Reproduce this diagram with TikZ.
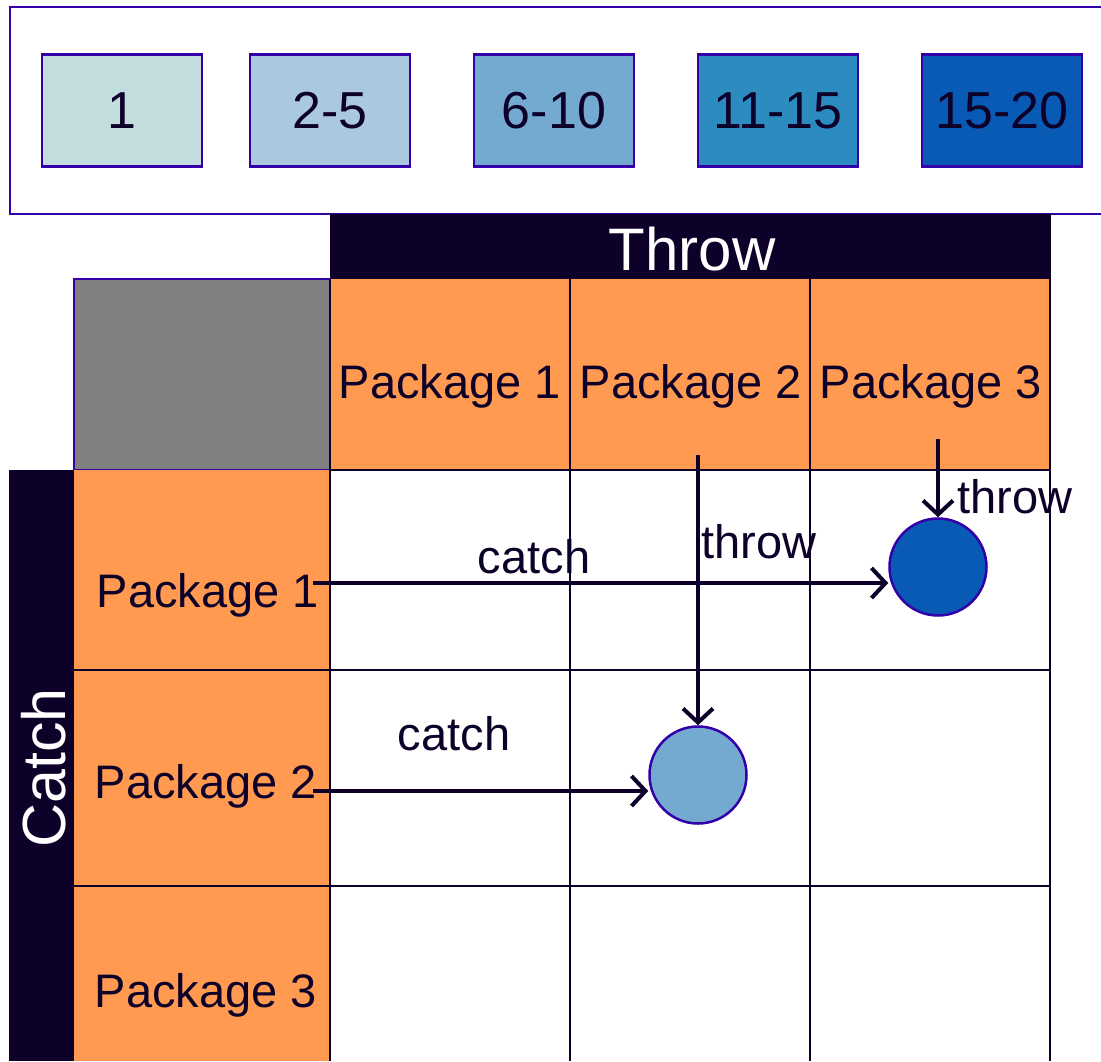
\documentclass[tikz,border=0pt]{standalone}
\usepackage{fontspec}
\setmainfont{Liberation Sans}
\usetikzlibrary{arrows.meta}
\definecolor{navy}{HTML}{0D0029}
\definecolor{bblue}{HTML}{3300AA}
\definecolor{orng}{HTML}{FF9A50}
\definecolor{gbox}{HTML}{808080}
\definecolor{lc1}{HTML}{C3DDDE}
\definecolor{lc2}{HTML}{ABC8E1}
\definecolor{lc3}{HTML}{74AAD0}
\definecolor{lc4}{HTML}{2D8CBF}
\definecolor{lc5}{HTML}{085AB4}
\begin{document}
\begin{tikzpicture}[x=1pt,y=-1pt,
  legbox/.style={draw=bblue,line width=2.5pt,rectangle,minimum width=160pt,minimum height=112pt,inner sep=0pt,text=navy,font=\fontsize{52}{60}\selectfont},
  gridline/.style={draw=navy,line width=2.5pt},
  celltext/.style={text=navy,font=\fontsize{47}{56}\selectfont,anchor=base,inner sep=0pt},
  lbl/.style={text=navy,font=\fontsize{47}{56}\selectfont,anchor=base,inner sep=0pt},
  dot/.style={circle,draw=bblue,line width=2.5pt,minimum size=97pt,inner sep=0pt},
  arr/.style={draw=navy,line width=4pt,-{Straight Barb[length=14pt,width=30pt,line width=4pt]}},
]
\useasboundingbox (0,0) rectangle (1101,1061);
\clip (0,0) rectangle (1101,1061);
\fill[white] (0,0) rectangle (1101,1061);
% legend frame
\draw[draw=bblue,line width=2.5pt] (10,7) rectangle (1130,214);
\node[legbox,fill=lc1] (l1) at (122,110.5) {1};
\node[legbox,fill=lc2] (l2) at (330,110.5) {2-5};
\node[legbox,fill=lc3] (l3) at (554,110.5) {6-10};
\node[legbox,fill=lc4] (l4) at (778,110.5) {11-15};
\node[legbox,fill=lc5] (l5) at (1002,110.5) {15-20};
% throw bar
\fill[navy] (330,214) rectangle (1051,279);
\node[text=white,font=\fontsize{60}{70}\selectfont,anchor=base,inner sep=0pt] (throwh) at (692,270) {Throw};
% catch bar
\fill[navy] (9,470) rectangle (74,1061);
\node[text=white,font=\fontsize{61}{70}\selectfont,anchor=base,rotate=90,inner sep=0pt] (catchh) at (65,768) {Catch};
% gray corner
\fill[gbox] (74,279) rectangle (330,470);
\draw[draw=bblue,line width=2.5pt] (330,279) -- (74,279) -- (74,470) -- (330,470);
% orange headers
\fill[orng] (330,279) rectangle (1050,470);
\fill[orng] (74,470) rectangle (330,1061);
% grid lines
\draw[gridline] (330,470) -- (1050,470);
\draw[gridline] (74,670) -- (1050,670);
\draw[gridline] (74,886) -- (1050,886);
\draw[gridline] (330,279) -- (330,1061);
\draw[gridline] (570,279) -- (570,1061);
\draw[gridline] (810,279) -- (810,1061);
\draw[gridline] (1050,279) -- (1050,1061);
% header texts
\node[celltext] (h1) at (450,398) {Package 1};
\node[celltext] (h2) at (691,398) {Package 2};
\node[celltext] (h3) at (931,398) {Package 3};
\node[celltext] (r1) at (208,607) {Package 1};
\node[celltext] (r2) at (206,798) {Package 2};
\node[celltext] (r3) at (206,1007) {Package 3};
% circles
\node[dot,fill=lc5] (dc) at (938,567) {};
\node[dot,fill=lc3] (lc) at (698,775) {};
% arrow anchors
\coordinate (c1s) at (313,583);
\coordinate (c2s) at (313,791);
\coordinate (t1s) at (698,455);
\coordinate (t2s) at (938,439);
\draw[arr] (c1s) -- (c1s -| dc.west);
\draw[arr] (c2s) -- (c2s -| lc.west);
\draw[arr] (t1s) -- (lc.north);
\draw[arr] (t2s) -- (dc.north);
% labels
\node[lbl] (lab1) at (534,573) {catch};
\node[lbl] (lab2) at (454,750) {catch};
\node[lbl,anchor=base west] (lab3) at (701,558) {throw};
\node[lbl,anchor=base west] (lab4) at (957,513) {throw};
\end{tikzpicture}
\end{document}
